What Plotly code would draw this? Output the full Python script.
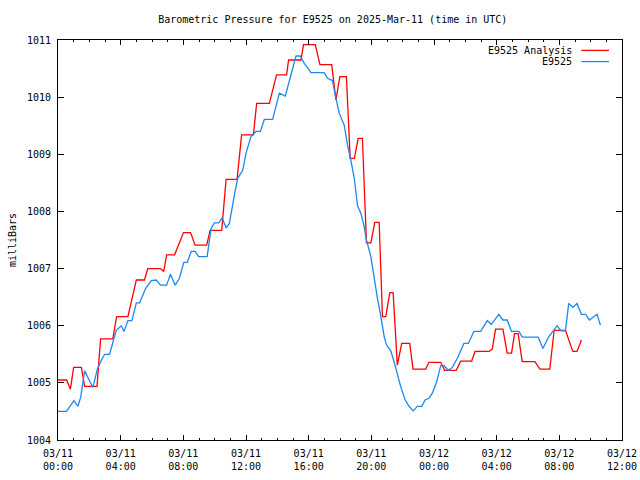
import datetime as dt
import plotly.graph_objects as go

# ---- data (hours after 2025-03-11 00:00 UTC, pressure in mb) ----
analysis_hours = [0.0, 0.55, 0.79, 1.00, 1.49, 1.70, 2.49, 2.72, 3.50, 3.74, 4.46, 5.00, 5.52, 5.73,
                  6.54, 6.75, 6.93, 7.44, 8.01, 8.46, 8.75, 9.49, 9.71, 10.45, 10.73, 11.43, 11.72,
                  12.47, 12.68, 13.49, 13.95, 14.59, 14.72, 15.51, 15.67, 16.42, 16.72, 17.47, 17.74,
                  17.99, 18.41, 18.65, 18.92, 19.16, 19.43, 19.69, 19.97, 20.22, 20.50, 20.71, 20.92,
                  21.18, 21.39, 21.66, 21.94, 22.45, 22.66, 23.47, 23.68, 24.43, 24.68, 25.42, 25.70,
                  26.40, 26.62, 27.51, 27.72, 27.93, 28.40, 28.67, 28.95, 29.14, 29.37, 29.63, 30.44,
                  30.76, 31.39, 31.67, 32.39, 32.86, 33.13, 33.41]
analysis_mb = [1005.05, 1005.05, 1004.89, 1005.27, 1005.27, 1004.94, 1004.94, 1005.77, 1005.77, 1006.16,
               1006.16, 1006.80, 1006.80, 1007.00, 1007.00, 1006.95, 1007.24, 1007.24, 1007.63, 1007.63,
               1007.41, 1007.41, 1007.67, 1007.67, 1008.56, 1008.56, 1009.34, 1009.34, 1009.89, 1009.89,
               1010.39, 1010.39, 1010.65, 1010.65, 1010.92, 1010.92, 1010.57, 1010.57, 1009.95, 1010.36,
               1010.36, 1008.93, 1008.93, 1009.28, 1009.28, 1007.45, 1007.45, 1007.81, 1007.81, 1006.16,
               1006.16, 1006.58, 1006.58, 1005.31, 1005.69, 1005.69, 1005.24, 1005.24, 1005.36, 1005.36,
               1005.22, 1005.22, 1005.38, 1005.38, 1005.55, 1005.55, 1005.59, 1005.94, 1005.94, 1005.52,
               1005.52, 1005.86, 1005.86, 1005.37, 1005.37, 1005.24, 1005.24, 1005.92, 1005.92, 1005.55,
               1005.55, 1005.75]

station_hours = [0.0, 0.54, 1.02, 1.27, 1.45, 1.70, 2.23, 2.51, 2.77, 2.98, 3.29, 3.72, 4.04, 4.21,
                 4.46, 4.72, 5.00, 5.21, 5.59, 5.95, 6.27, 6.54, 6.93, 7.18, 7.48, 7.75, 8.03, 8.25,
                 8.50, 8.75, 8.97, 9.52, 9.77, 9.98, 10.26, 10.48, 10.73, 10.94, 11.26, 11.47, 11.79,
                 12.00, 12.32, 12.64, 12.92, 13.17, 13.70, 14.02, 14.13, 14.51, 14.72, 15.08, 15.19,
                 15.46, 15.72, 16.15, 16.99, 17.20, 17.52, 17.73, 17.95, 18.27, 18.48, 18.69, 18.91,
                 19.12, 19.33, 19.54, 19.69, 19.97, 20.18, 20.39, 20.61, 20.82, 20.96, 21.24, 21.45,
                 21.66, 21.88, 22.16, 22.41, 22.67, 22.94, 23.22, 23.43, 23.68, 23.89, 24.15, 24.43,
                 24.64, 24.91, 25.17, 25.49, 25.91, 26.19, 26.55, 26.98, 27.40, 27.65, 28.14, 28.40,
                 28.67, 28.95, 29.42, 29.63, 30.65, 30.95, 31.33, 31.86, 32.11, 32.39, 32.60, 32.86,
                 33.13, 33.41, 33.68, 33.92, 34.41, 34.62]
station_mb = [1004.50, 1004.50, 1004.69, 1004.59, 1004.75, 1005.21, 1004.92, 1005.24, 1005.40, 1005.50,
              1005.50, 1005.92, 1006.00, 1005.90, 1006.09, 1006.09, 1006.40, 1006.40, 1006.65, 1006.79,
              1006.80, 1006.71, 1006.71, 1006.90, 1006.71, 1006.83, 1007.11, 1007.11, 1007.30, 1007.30,
              1007.21, 1007.21, 1007.70, 1007.80, 1007.80, 1007.89, 1007.71, 1007.79, 1008.29, 1008.58,
              1008.72, 1009.02, 1009.31, 1009.40, 1009.40, 1009.61, 1009.61, 1009.95, 1010.07, 1010.02,
              1010.24, 1010.62, 1010.72, 1010.72, 1010.59, 1010.43, 1010.43, 1010.33, 1010.29, 1009.99,
              1009.72, 1009.51, 1009.16, 1008.90, 1008.58, 1008.10, 1007.97, 1007.74, 1007.50, 1007.21,
              1006.80, 1006.48, 1006.16, 1005.81, 1005.67, 1005.56, 1005.37, 1005.14, 1004.93, 1004.70,
              1004.59, 1004.51, 1004.59, 1004.59, 1004.70, 1004.73, 1004.82, 1005.00, 1005.30, 1005.30,
              1005.22, 1005.27, 1005.43, 1005.69, 1005.69, 1005.90, 1005.90, 1006.09, 1006.02, 1006.20,
              1006.10, 1006.10, 1005.90, 1005.90, 1005.80, 1005.80, 1005.60, 1005.81, 1006.00, 1005.91,
              1005.91, 1006.39, 1006.32, 1006.39, 1006.20, 1006.20, 1006.10, 1006.20, 1006.01]

series_names = ["E9525 Analysis", "E9525"]
series_colors = ["#ff0000", "#1e88f0"]
title_text = "Barometric Pressure for E9525 on 2025-Mar-11 (time in UTC)"
y_label = "milliBars"

start = dt.datetime(2025, 3, 11, 0, 0)
end = dt.datetime(2025, 3, 12, 12, 0)


def to_times(hours):
    return [start + dt.timedelta(hours=h) for h in hours]


FONT = "DejaVu Sans Mono"

fig = go.Figure()
fig.add_trace(go.Scatter(x=to_times(analysis_hours), y=analysis_mb, mode="lines",
                         name=series_names[0], line=dict(color=series_colors[0], width=1.3),
                         showlegend=False))
fig.add_trace(go.Scatter(x=to_times(station_hours), y=station_mb, mode="lines",
                         name=series_names[1], line=dict(color=series_colors[1], width=1.3),
                         showlegend=False))

# gnuplot-style legend: right-aligned text with line sample on the right
legend_y = [0.974, 0.946]
for name, color, yy in zip(series_names, series_colors, legend_y):
    fig.add_annotation(xref="paper", yref="paper", x=0.915, y=yy, text=name,
                       showarrow=False, xanchor="right", yanchor="middle",
                       font=dict(family=FONT, size=10, color="black"))
    fig.add_shape(type="line", xref="paper", yref="paper", x0=0.928, x1=0.977, y0=yy, y1=yy,
                  line=dict(color=color, width=1.3))

fig.update_layout(
    width=640, height=480,
    margin=dict(l=58, r=18, t=40, b=40, autoexpand=False),
    paper_bgcolor="white", plot_bgcolor="white",
    font=dict(family=FONT, size=10, color="black"),
    title=dict(text=title_text, x=0.52, xref="container", y=1 - 19 / 480, yref="container",
               xanchor="center", yanchor="middle", automargin=False,
               font=dict(family=FONT, size=10, color="black")),
    showlegend=False,
)
fig.update_xaxes(
    type="date", range=[start, end], dtick=4 * 3600 * 1000, tick0=start,
    tickformat="%m/%d<br>%H:%M", ticks="inside", ticklen=5, tickcolor="black",
    showline=True, linecolor="black", linewidth=1, mirror="ticks", showgrid=False, zeroline=False,
    ticklabelstandoff=4, automargin=False,
    minor=dict(dtick=3600 * 1000, ticks="inside", ticklen=2, tickcolor="black", showgrid=False),
    tickfont=dict(family=FONT, size=10),
)
fig.update_yaxes(
    range=[1004, 1011], dtick=1, tick0=1004, ticks="inside", ticklen=6, tickcolor="black",
    showline=True, linecolor="black", linewidth=1, mirror="ticks", showgrid=False, zeroline=False,
    ticklabelstandoff=4, automargin=False,
    title=dict(text=y_label, standoff=8, font=dict(family=FONT, size=10)),
    tickfont=dict(family=FONT, size=10),
)

fig.write_html("out.html", post_script="document.body.style.margin='0';",
               config={"displayModeBar": False})
